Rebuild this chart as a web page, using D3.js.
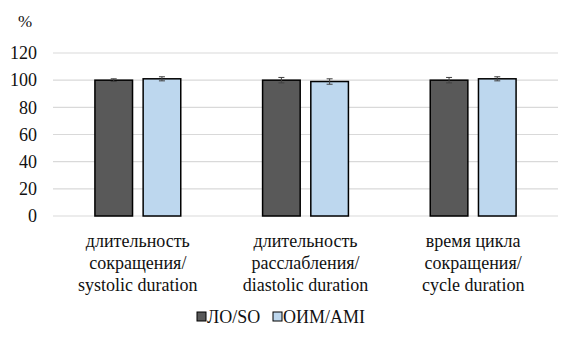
<!DOCTYPE html>
<html><head><meta charset="utf-8">
<script src="https://cdn.jsdelivr.net/npm/d3@7"></script>
</head>
<body style="margin:0;background:#fff;font-family:'Liberation Serif',serif">
<div id="a"></div>
<script>
const categories = [
  ['длительность', 'сокращения/', 'systolic duration'],
  ['длительность', 'расслабления/', 'diastolic duration'],
  ['время цикла', 'сокращения/', 'cycle duration'],
]
const seriesNames = ['ЛО/SO', 'ОИМ/AMI']
const soValues = [100, 100, 100]
const soErrors = [1, 2, 2]
const amiValues = [101, 99, 101]
const amiErrors = [1.5, 2, 1.5]
const yTicks = [0, 20, 40, 60, 80, 100, 120]

const colors = ['#595959', '#bdd7ee']
const FONT = "'Liberation Serif', Tinos, serif"

const width = 576
const height = 344
const margin = { top: 53, right: 18, bottom: 128, left: 53 }
const innerW = width - margin.left - margin.right
const innerH = height - margin.top - margin.bottom

const svg = d3.select('#a').append('svg').attr('width', width).attr('height', height)
  .style('font-family', FONT)
const g = svg.append('g').attr('transform', `translate(${margin.left},${margin.top})`)

const rows = categories.map((c, i) => ({
  idx: i,
  values: [
    { key: 0, value: soValues[i], err: soErrors[i] },
    { key: 1, value: amiValues[i], err: amiErrors[i] },
  ],
}))

const x0 = d3.scaleBand().domain(d3.range(categories.length)).range([0, innerW])
  .paddingInner(0.488).paddingOuter(0.25)
const x1 = d3.scaleBand().domain([0, 1]).range([0, x0.bandwidth()]).paddingInner(0.22)
const y = d3.scaleLinear().domain([0, 120]).range([innerH, 0])

// gridlines
g.append('g')
  .selectAll('line')
  .data(yTicks)
  .join('line')
  .attr('x1', 0).attr('x2', innerW)
  .attr('y1', (d) => y(d)).attr('y2', (d) => y(d))
  .attr('stroke', '#d9d9d9').attr('stroke-width', 1.2)

// y tick labels, drawn from the scale
g.append('g')
  .selectAll('text')
  .data(yTicks)
  .join('text')
  .attr('x', -16)
  .attr('y', (d) => y(d))
  .attr('dy', '0.35em')
  .attr('text-anchor', 'end')
  .style('font-family', FONT)
  .style('font-size', '18px')
  .attr('fill', '#111')
  .text((d) => d)

svg.append('text').attr('x', 18).attr('y', 27)
  .style('font-family', FONT).style('font-size', '17px').attr('fill', '#111').text('%')

// bars
const grp = g.selectAll('g.grp').data(rows).join('g')
  .attr('class', 'grp')
  .attr('transform', (d) => `translate(${x0(d.idx)},0)`)

grp.selectAll('rect')
  .data((d) => d.values)
  .join('rect')
  .attr('x', (d) => x1(d.key))
  .attr('width', x1.bandwidth())
  .attr('y', (d) => y(d.value))
  .attr('height', (d) => y(0) - y(d.value))
  .attr('fill', (d) => colors[d.key])
  .attr('stroke', '#000')
  .attr('stroke-width', 1.5)

// error bars
const eb = grp.selectAll('g.err').data((d) => d.values).join('g').attr('class', 'err')
  .attr('stroke', '#404040').attr('stroke-width', 1)
eb.append('line')
  .attr('x1', (d) => x1(d.key) + x1.bandwidth() / 2)
  .attr('x2', (d) => x1(d.key) + x1.bandwidth() / 2)
  .attr('y1', (d) => y(d.value + d.err))
  .attr('y2', (d) => y(d.value - d.err))
eb.selectAll('line.cap')
  .data((d) => [d.value + d.err, d.value - d.err].map((v) => ({ v, c: x1(d.key) + x1.bandwidth() / 2 })))
  .join('line').attr('class', 'cap')
  .attr('x1', (d) => d.c - 3).attr('x2', (d) => d.c + 3)
  .attr('y1', (d) => y(d.v)).attr('y2', (d) => y(d.v))

// category labels, one text per line
const catLines = categories.flatMap((lines, i) => lines.map((t, j) => ({ t, i, j })))
g.append('g')
  .selectAll('text')
  .data(catLines)
  .join('text')
  .attr('x', (d) => x0(d.i) + x0.bandwidth() / 2)
  .attr('y', (d) => innerH + 31 + d.j * 22)
  .attr('text-anchor', 'middle')
  .style('font-family', FONT)
  .style('font-size', '18px')
  .attr('fill', '#111')
  .text((d) => d.t)

// legend
const legend = svg.append('g').attr('transform', 'translate(197,323)')
const legendItems = [
  { name: seriesNames[0], color: colors[0], x: 0 },
  { name: seriesNames[1], color: colors[1], x: 76 },
]
const li = legend.selectAll('g').data(legendItems).join('g')
  .attr('transform', (d) => `translate(${d.x},0)`)
li.append('rect').attr('x', 0).attr('y', -11).attr('width', 9).attr('height', 9)
  .attr('fill', (d) => d.color).attr('stroke', '#000').attr('stroke-width', 1)
li.append('text').attr('x', 10).attr('y', 0)
  .style('font-family', FONT).style('font-size', '18px').attr('fill', '#111').text((d) => d.name)
</script>
</body></html>
